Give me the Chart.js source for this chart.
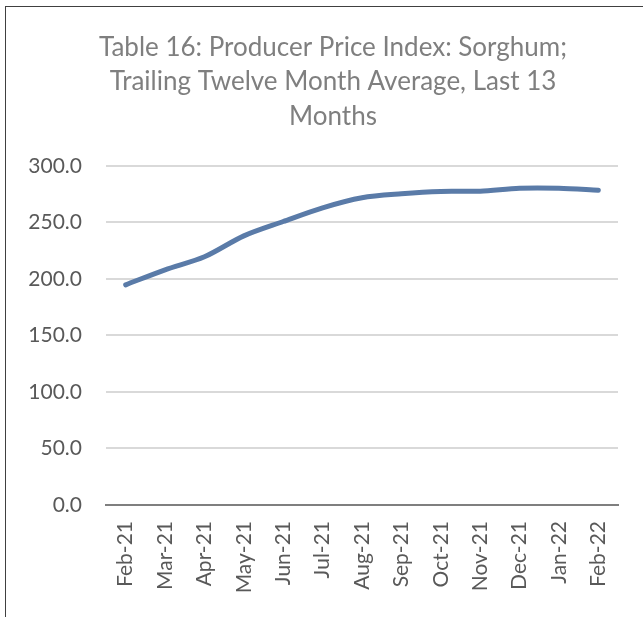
<!DOCTYPE html>
<html>
<head>
<meta charset="utf-8">
<script src="https://cdn.jsdelivr.net/npm/chart.js@4"></script>
<style>
    body { margin: 0; background: #fff; }
    .frame {
        position: absolute;
        left: 5px;
        top: 6px;
        width: 638px;
        height: 611px;
        border-left: 1px solid #404040;
        border-top: 1px solid #404040;
    }
    #ppi-chart { display: block; }
</style>
</head>
<body>
<div class="frame">
    <canvas id="ppi-chart" width="637" height="610"></canvas>
</div>
<script>
// Sorghum PPI, trailing twelve month average
const months = ['Feb-21', 'Mar-21', 'Apr-21', 'May-21', 'Jun-21', 'Jul-21', 'Aug-21',
                'Sep-21', 'Oct-21', 'Nov-21', 'Dec-21', 'Jan-22', 'Feb-22'];
const ppiValues = [194.7, 208.0, 219.5, 238.0, 250.7, 262.8, 271.7,
                   275.2, 277.3, 277.5, 280.0, 280.0, 278.3];
const titleLines = ['Table 16: Producer Price Index: Sorghum;',
                    'Trailing Twelve Month Average, Last 13',
                    'Months'];
const yMin = 0;
const yMax = 300;
const yStep = 50;

// title in the original sits a bit right of the canvas centre
const titleShift = {
    id: 'titleShift',
    afterLayout: function(chart) {
        if (chart.titleBlock) {
            chart.titleBlock.left += 42;
        }
    }
};

document.addEventListener('DOMContentLoaded', function() {
    const ctx = document.getElementById('ppi-chart').getContext('2d');
    const ppiChart = new Chart(ctx, {
        type: 'line',
        data: {
            labels: months,
            datasets: [{
                label: 'PPI Sorghum',
                data: ppiValues,
                borderColor: '#5a7ba8',
                borderWidth: 5,
                borderCapStyle: 'round',
                borderJoinStyle: 'round',
                pointRadius: 0,
                tension: 0.3,
                fill: false
            }]
        },
        plugins: [titleShift],
        options: {
            responsive: false,
            animation: false,
            layout: {
                padding: { left: 0, right: 25, top: 23, bottom: 0 }
            },
            plugins: {
                legend: { display: false },
                tooltip: { enabled: false },
                title: {
                    display: true,
                    text: titleLines,
                    color: '#7f7f7f',
                    font: { family: 'Lato', size: 26, weight: 'normal', lineHeight: 1.33 },
                    padding: { top: 0, bottom: 32 }
                }
            },
            scales: {
                x: {
                    offset: true,
                    grid: { display: false, drawTicks: false },
                    border: { display: true, color: '#7f7f7f', width: 2 },
                    ticks: {
                        color: '#595959',
                        font: { family: 'Lato', size: 21 },
                        maxRotation: 90,
                        minRotation: 90,
                        padding: 16,
                        autoSkip: false
                    },
                    afterFit: function(scale) {
                        scale.height = 112;
                    }
                },
                y: {
                    min: yMin,
                    max: yMax,
                    grid: { color: '#d9d9d9', lineWidth: 2, drawTicks: false },
                    border: { display: false },
                    ticks: {
                        stepSize: yStep,
                        color: '#595959',
                        font: { family: 'Lato', size: 21 },
                        padding: 24,
                        callback: function(value) {
                            return value.toFixed(1);
                        }
                    },
                    afterFit: function(scale) {
                        scale.width = 100;
                    }
                }
            }
        }
    });
});
</script>
</body>
</html>
